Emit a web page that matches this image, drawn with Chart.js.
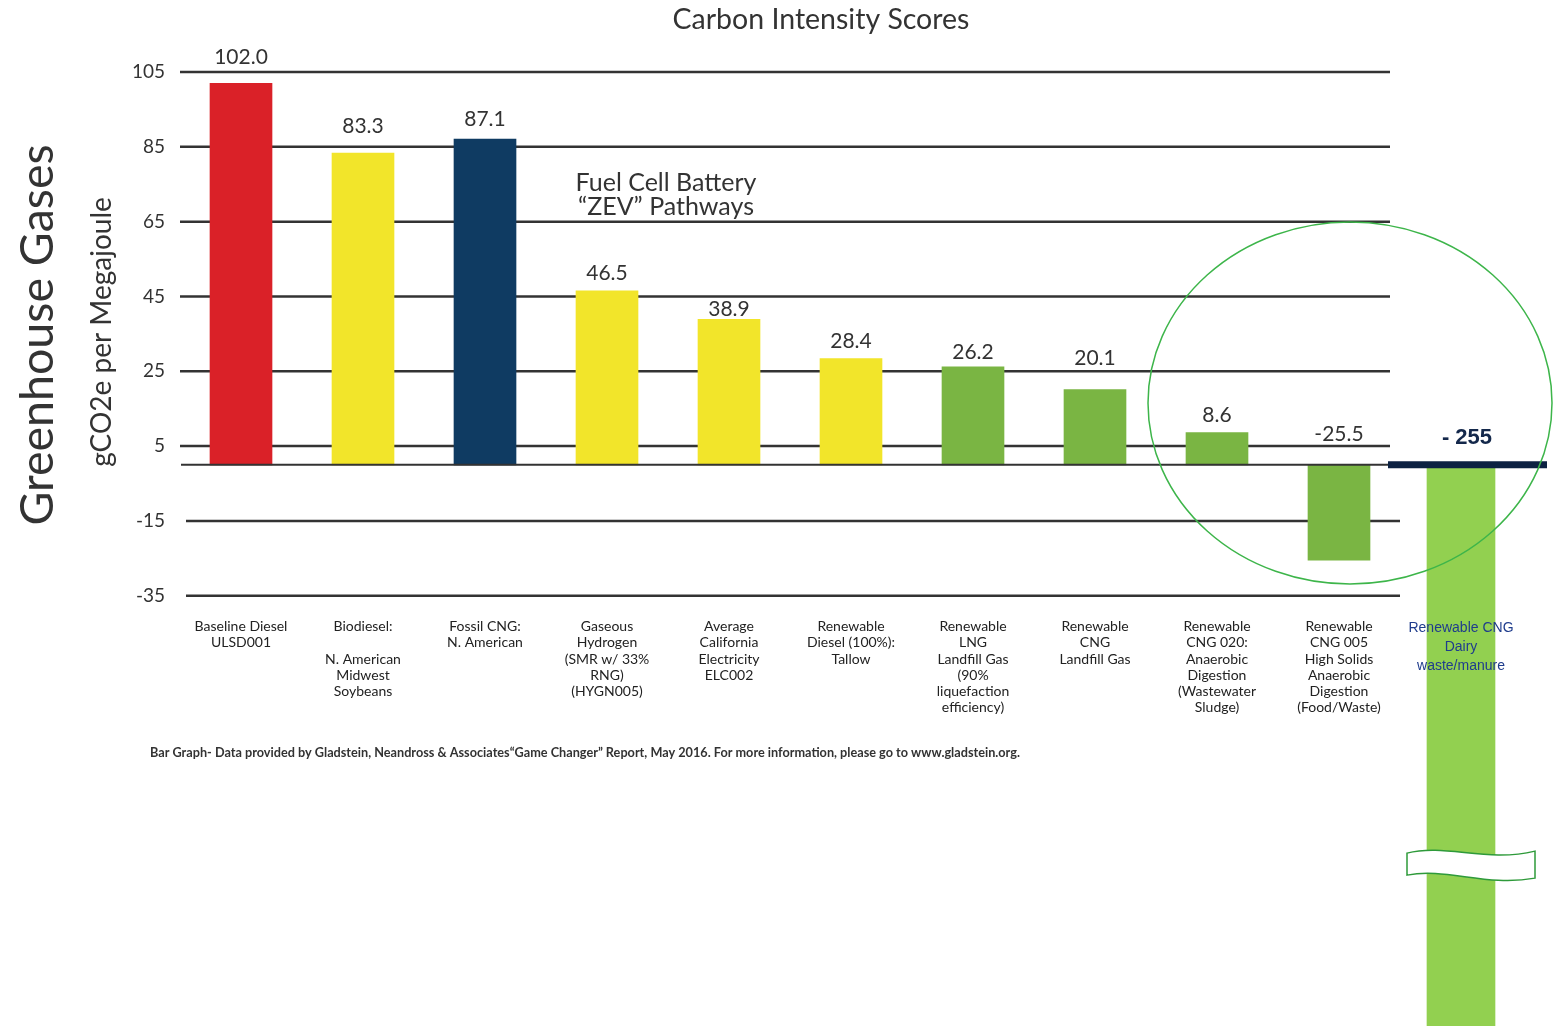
<!DOCTYPE html>
<html>
<head>
<meta charset="utf-8">
<script src="https://cdn.jsdelivr.net/npm/chart.js@4.4.0/dist/chart.umd.min.js"></script>
<style>
  html, body { margin: 0; padding: 0; background: #fff; }
  #wrap { width: 1553px; height: 1026px; position: relative; }
</style>
</head>
<body>
<div id="wrap"><canvas id="ci"></canvas></div>
<script>
// Values
const categories = [
  ['Baseline Diesel', 'ULSD001'],
  ['Biodiesel:', '', 'N. American', 'Midwest', 'Soybeans'],
  ['Fossil CNG:', 'N. American'],
  ['Gaseous', 'Hydrogen', '(SMR w/ 33%', 'RNG)', '(HYGN005)'],
  ['Average', 'California', 'Electricity', 'ELC002'],
  ['Renewable', 'Diesel (100%):', 'Tallow'],
  ['Renewable', 'LNG', 'Landfill Gas', '(90%', 'liquefaction', 'efficiency)'],
  ['Renewable', 'CNG', 'Landfill Gas'],
  ['Renewable', 'CNG 020:', 'Anaerobic', 'Digestion', '(Wastewater', 'Sludge)'],
  ['Renewable', 'CNG 005', 'High Solids', 'Anaerobic', 'Digestion', '(Food/Waste)'],
  ['Renewable CNG', 'Dairy', 'waste/manure']
];
const ciScores = [102.0, 83.3, 87.1, 46.5, 38.9, 28.4, 26.2, 20.1, 8.6, -25.5, null];
const dairyScore = [null, null, null, null, null, null, null, null, null, null, -255];
const yTicks = [105, 85, 65, 45, 25, 5, -15, -35];

const barColors = ['#da2128', '#f2e52a', '#0f3b62', '#f2e52a', '#f2e52a', '#f2e52a',
                   '#7ab543', '#7ab543', '#7ab543', '#7ab543'];
// how far each value label sits above its bar, px (as placed in the original)
const labelGap = [26, 27, 20, 18, 10, 17, 15, 31, 17];

const TITLE = 'Carbon Intensity Scores';
const NOTE = 'Bar Graph- Data provided by Gladstein, Neandross & Associates\u201cGame Changer\u201d Report, May 2016. For more information, please go to www.gladstein.org.';

// grid lines, labels and the bits drawn on top
const decor = {
  id: 'decor',
  beforeDatasetsDraw(chart) {
    const { ctx, scales: { y }, chartArea } = chart;
    ctx.save();
    ctx.strokeStyle = '#333';
    ctx.lineWidth = 2.5;
    yTicks.forEach(v => {
      const py = y.getPixelForValue(v);
      ctx.beginPath();
      ctx.moveTo(v < 0 ? 186 : chartArea.left, py);
      ctx.lineTo(v < 0 ? 1400 : 1390, py);
      ctx.stroke();
    });
    ctx.restore();
  },
  afterDatasetsDraw(chart) {
    const { ctx, scales: { y }, chartArea } = chart;
    const zeroY = y.getPixelForValue(0);
    ctx.save();

    // zero line + dark cap over the dairy bar
    ctx.strokeStyle = '#333';
    ctx.lineWidth = 2;
    ctx.beginPath(); ctx.moveTo(chartArea.left + 1, zeroY); ctx.lineTo(1390, zeroY); ctx.stroke();
    ctx.strokeStyle = '#0c2142';
    ctx.lineWidth = 7;
    ctx.beginPath(); ctx.moveTo(1388, zeroY); ctx.lineTo(1547, zeroY); ctx.stroke();

    // value labels
    const m0 = chart.getDatasetMeta(0);
    ctx.font = '21px Lato';
    ctx.fillStyle = '#333';
    ctx.textAlign = 'center';
    ctx.textBaseline = 'middle';
    ciScores.forEach((v, i) => {
      if (v === null) return;
      const bar = m0.data[i];
      ctx.fillText(v.toFixed(1), bar.x, v >= 0 ? bar.y - labelGap[i] : zeroY - 31);
    });
    const dBar = chart.getDatasetMeta(1).data[10];
    ctx.font = 'bold 22px "Liberation Sans", Arial';
    ctx.fillStyle = '#14284b';
    ctx.fillText('- ' + Math.abs(dairyScore[10]), dBar.x + 6, zeroY - 27);

    // axis break on the dairy bar
    const cx = dBar.x + 10, cy = y.getPixelForValue(-107);
    ctx.beginPath();
    ctx.moveTo(cx - 64, cy - 12);
    ctx.bezierCurveTo(cx - 25, cy - 22, cx + 15, cy - 2, cx + 64, cy - 14);
    ctx.lineTo(cx + 64, cy + 13);
    ctx.bezierCurveTo(cx + 15, cy + 22, cx - 25, cy + 2, cx - 64, cy + 10);
    ctx.closePath();
    ctx.fillStyle = '#fff';
    ctx.fill();
    ctx.strokeStyle = '#2e9a3a';
    ctx.lineWidth = 1.5;
    ctx.stroke();

    // green circle
    ctx.beginPath();
    ctx.ellipse(1350, 403, 202, 181, 0, 0, Math.PI * 2);
    ctx.strokeStyle = '#3db54a';
    ctx.lineWidth = 1.5;
    ctx.stroke();
    ctx.restore();
  },
  afterDraw(chart) {
    const { ctx } = chart;
    ctx.save();
    ctx.fillStyle = '#333';
    ctx.textAlign = 'center';
    ctx.textBaseline = 'middle';

    ctx.font = '28.5px Lato';
    ctx.fillText(TITLE, 821, 20);

    ctx.font = '25px Lato';
    ctx.fillText('Fuel Cell Battery', 666, 183);
    ctx.fillText('\u201cZEV\u201d Pathways', 666, 207);

    ctx.save();
    ctx.translate(38, 335);
    ctx.rotate(-Math.PI / 2);
    ctx.font = '46.5px Lato';
    ctx.fillText('Greenhouse Gases', 0, 0);
    ctx.restore();

    ctx.save();
    ctx.translate(102, 332);
    ctx.rotate(-Math.PI / 2);
    ctx.font = '28px Lato';
    ctx.fillText('gCO2e per Megajoule', 0, 0);
    ctx.restore();

    ctx.textAlign = 'left';
    ctx.font = 'bold 12.7px Lato';
    ctx.fillText(NOTE, 150, 753);
    ctx.restore();
  }
};

new Chart(document.getElementById('ci'), {
  type: 'bar',
  data: {
    labels: categories,
    datasets: [
      { data: ciScores, backgroundColor: barColors, barThickness: 62, grouped: false },
      { data: dairyScore, backgroundColor: '#92d050', barThickness: 68, grouped: false }
    ]
  },
  options: {
    responsive: true,
    maintainAspectRatio: false,
    animation: false,
    layout: { padding: { left: 90, right: 31, top: 72, bottom: 0 } },
    plugins: { legend: { display: false }, tooltip: { enabled: false }, title: { display: false } },
    scales: {
      x: {
        position: { y: -35 },
        offset: true,
        afterFit: s => { s.height = 0; s.paddingLeft = 0; s.paddingRight = 0; },
        grid: { display: false, drawTicks: false },
        border: { display: false },
        ticks: {
          z: 1,
          autoSkip: false, maxRotation: 0, minRotation: 0, padding: 23,
          color: c => c.index === 10 ? '#1f3c8c' : '#222',
          font: c => c.index === 10
            ? { family: '"Liberation Sans", Arial', size: 14, lineHeight: 1.35 }
            : { family: 'Lato', size: 14, lineHeight: 1.15 }
        }
      },
      y: {
        min: -150,
        max: 105,
        afterBuildTicks: s => { s.ticks = yTicks.map(v => ({ value: v })); },
        afterFit: s => { s.width = 90; s.paddingTop = 0; s.paddingBottom = 0; },
        grid: { display: false, drawTicks: false },
        border: { display: false },
        ticks: { padding: 15, color: '#333', font: { family: 'Lato', size: 19 } }
      }
    }
  },
  plugins: [decor]
});
</script>
</body>
</html>
